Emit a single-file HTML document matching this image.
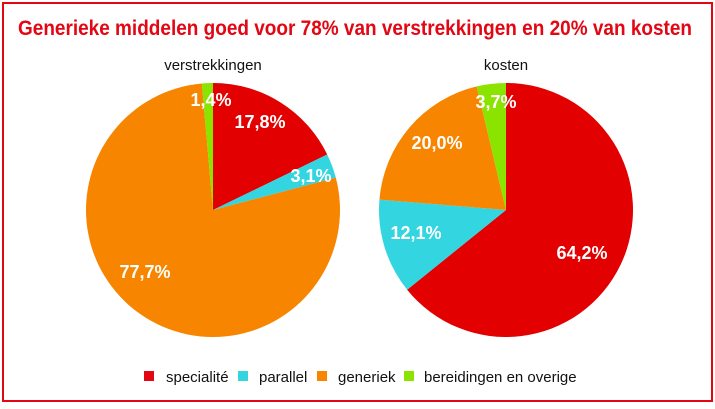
<!DOCTYPE html>
<html><head><meta charset="utf-8"><style>
body{margin:0;background:#fff;}
.f{font-family:"Liberation Sans Narrow","Liberation Sans",sans-serif;}
</style></head><body>
<svg width="715" height="404" xmlns="http://www.w3.org/2000/svg" id="s">
<rect x="3" y="3" width="709" height="398" fill="#fff" stroke="#e30613" stroke-width="2"/>
<text x="18" y="35" textLength="674" lengthAdjust="spacingAndGlyphs" class="f" font-weight="bold" font-size="21" fill="#e30613">Generieke middelen goed voor 78% van verstrekkingen en 20% van kosten</text>
<text x="213" y="70" text-anchor="middle" class="f" font-size="15" fill="#111">verstrekkingen</text>
<text x="506" y="70" text-anchor="middle" class="f" font-size="15" fill="#111">kosten</text>
<g id="p1"></g><g id="p2"></g>
<g class="f" font-weight="bold" font-size="18" fill="#fff" text-anchor="middle">
<text x="260" y="128">17,8%</text>
<text x="311" y="182">3,1%</text>
<text x="145" y="278">77,7%</text>
<text x="211" y="106">1,4%</text>
<text x="582" y="259">64,2%</text>
<text x="416" y="239">12,1%</text>
<text x="437" y="149">20,0%</text>
<text x="496" y="108">3,7%</text>
</g>
<g class="f" font-size="15" fill="#111">
<rect x="144" y="371" width="10" height="10" fill="#e30613"/><text x="166" y="382">specialité</text>
<rect x="238" y="371" width="10" height="10" fill="#33d6e0"/><text x="259" y="382">parallel</text>
<rect x="317" y="371" width="10" height="10" fill="#f78500"/><text x="338" y="382">generiek</text>
<rect x="404" y="371" width="10" height="10" fill="#8be400"/><text x="424" y="382">bereidingen en overige</text>
</g>
</svg>
<script>
var C=["#e20000","#33d6e0","#f78500","#8be400"];
function pie(id,cx,cy,r,v){var g=document.getElementById(id),a=0,h="";
for(var i=0;i<v.length;i++){var a0=a;a+=v[i]/100*2*Math.PI;
var x0=cx+r*Math.sin(a0),y0=cy-r*Math.cos(a0),x1=cx+r*Math.sin(a),y1=cy-r*Math.cos(a);
h+='<path d="M'+cx+','+cy+'L'+x0+','+y0+'A'+r+','+r+' 0 '+((a-a0)>Math.PI?1:0)+' 1 '+x1+','+y1+'Z" fill="'+C[i]+'"/>';}
g.innerHTML=h;}
pie("p1",213,210,127,[17.8,3.1,77.7,1.4]);
pie("p2",506,210,127,[64.2,12.1,20.0,3.7]);
</script>
</body></html>
